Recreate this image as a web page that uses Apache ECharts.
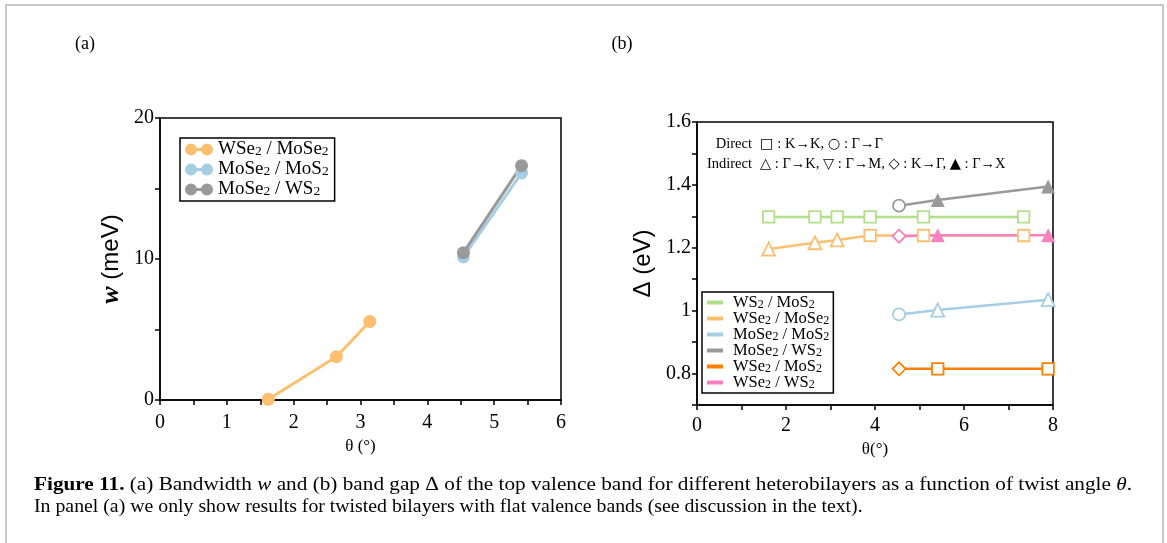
<!DOCTYPE html>
<html>
<head>
<meta charset="utf-8">
<script src="https://cdn.jsdelivr.net/npm/echarts@6/dist/echarts.min.js"></script>
<style>
html,body{margin:0;padding:0;background:#fff;}
#chart{width:1167px;height:543px;}
</style>
</head>
<body>
<div id="chart"></div>
<script>
// ---------- Panel (a): bandwidth w (meV) vs theta ----------
const namesA = ['WSe2 / MoSe2', 'MoSe2 / MoS2', 'MoSe2 / WS2'];
const thetaA_WSe2MoSe2 = [1.62, 2.64, 3.14];
const wA_WSe2MoSe2 = [0.05, 3.07, 5.57];
const thetaA_MoSe2MoS2 = [4.54, 5.41];
const wA_MoSe2MoS2 = [10.15, 16.1];
const thetaA_MoSe2WS2 = [4.54, 5.41];
const wA_MoSe2WS2 = [10.45, 16.62];

// ---------- Panel (b): band gap Delta (eV) vs theta ----------
const namesB = ['WS2 / MoS2', 'WSe2 / MoSe2', 'MoSe2 / MoS2', 'MoSe2 / WS2', 'WSe2 / MoS2', 'WSe2 / WS2'];
const thetaB_WS2MoS2 = [1.61, 2.65, 3.15, 3.89, 5.09, 7.34];
const gapB_WS2MoS2 = [1.298, 1.298, 1.298, 1.298, 1.298, 1.298];
const typeB_WS2MoS2 = ['KK', 'KK', 'KK', 'KK', 'KK', 'KK'];
const thetaB_WSe2MoSe2 = [1.61, 2.65, 3.15, 3.89, 5.09, 7.34];
const gapB_WSe2MoSe2 = [1.196, 1.216, 1.225, 1.239, 1.239, 1.239];
const typeB_WSe2MoSe2 = ['GK', 'GK', 'GK', 'KK', 'KK', 'KK'];
const thetaB_MoSe2MoS2 = [4.54, 5.41, 7.89];
const gapB_MoSe2MoS2 = [0.988, 1.002, 1.035];
const typeB_MoSe2MoS2 = ['GG', 'GK', 'GK'];
const thetaB_MoSe2WS2 = [4.54, 5.41, 7.89];
const gapB_MoSe2WS2 = [1.334, 1.352, 1.395];
const typeB_MoSe2WS2 = ['GG', 'GX', 'GX'];
const thetaB_WSe2MoS2 = [4.54, 5.41, 7.89];
const gapB_WSe2MoS2 = [0.815, 0.815, 0.815];
const typeB_WSe2MoS2 = ['KG', 'KK', 'KK'];
const thetaB_WSe2WS2 = [4.54, 5.41, 7.89];
const gapB_WSe2WS2 = [1.237, 1.24, 1.24];
const typeB_WSe2WS2 = ['KG', 'GX', 'GX'];

// tick labels
const xTicksA = [0, 1, 2, 3, 4, 5, 6];
const yTicksA = [0, 10, 20];
const xTicksB = [0, 2, 4, 6, 8];
const yTicksB = ['0.8', '1', '1.2', '1.4', '1.6'];

const colors = {
  'WS2 / MoS2': '#b2df8a',
  'WSe2 / MoSe2': '#fdbf6f',
  'MoSe2 / MoS2': '#a6cee3',
  'MoSe2 / WS2': '#999999',
  'WSe2 / MoS2': '#ff7f00',
  'WSe2 / WS2': '#f781bf'
};

const serif = '"Liberation Serif", "DejaVu Serif", serif';
const sans = '"Liberation Sans", Arial, sans-serif';

function pairs(xs, ys) { return xs.map((x, i) => [x, ys[i]]); }

function symbolFor(type, color) {
  // open symbols: white fill + coloured border; filled triangle for Gamma->X
  const map = { KK: ['rect', 11.5], GG: ['circle', 12], GK: ['triangle', 13], GM: ['path://M0,0L2,0L1,1.7Z', 13], KG: ['diamond', 13], GX: ['triangle', 14] };
  const m = map[type];
  const filled = type === 'GX';
  return {
    symbol: m[0], symbolSize: m[1],
    itemStyle: { color: filled ? color : '#ffffff', borderColor: color, borderWidth: filled ? 0 : 1.8 }
  };
}

function seriesB(name, xs, ys, types) {
  const c = colors[name];
  return {
    name, type: 'line', xAxisIndex: 1, yAxisIndex: 1,
    color: c,
    lineStyle: { color: c, width: 2.5 },
    itemStyle: { color: c },
    data: xs.map((x, i) => Object.assign({ value: [x, ys[i]] }, symbolFor(types[i], c))),
    z: 3
  };
}

function seriesA(name, xs, ys) {
  const c = colors[name];
  return {
    name, type: 'line', xAxisIndex: 0, yAxisIndex: 0,
    color: c,
    symbol: 'circle', symbolSize: 13,
    lineStyle: { color: c, width: 3 },
    itemStyle: { color: c },
    data: pairs(xs, ys)
  };
}

function subFmt(name) { return name.replace(/2/g, '{s|2}'); }

const chart = echarts.init(document.getElementById('chart'), null, { renderer: 'canvas' });

const axisCommon = {
  axisLine: { lineStyle: { color: '#000', width: 1.5 } },
  axisTick: { inside: false, length: 5, lineStyle: { color: '#000', width: 1.5 } },
  splitLine: { show: false }
};

const twoIcon = 'path://M0,6A6,6,0,1,1,12,6A6,6,0,1,1,0,6ZM16,6A6,6,0,1,1,28,6A6,6,0,1,1,16,6ZM11,4.5L17,4.5L17,7.5L11,7.5Z';

const option = {
  backgroundColor: '#ffffff',
  animation: false,
  grid: [
    { left: 160, top: 118, width: 401, height: 282, show: true, borderColor: '#000', borderWidth: 1.5, backgroundColor: 'transparent' },
    { left: 697, top: 122, width: 356, height: 283, show: true, borderColor: '#000', borderWidth: 1.5, backgroundColor: 'transparent' }
  ],
  xAxis: [
    Object.assign({}, axisCommon, {
      gridIndex: 0, type: 'value', min: 0, max: 6, interval: 0.5,
      name: 'θ (°)', nameLocation: 'middle', nameGap: 30,
      nameTextStyle: { fontFamily: serif, fontSize: 17, color: '#000' },
      axisLabel: { interval: 0, margin: 13, fontFamily: serif, fontSize: 20, color: '#000',
        formatter: v => { const r = Math.round(v * 2) / 2; return xTicksA.indexOf(r) >= 0 ? String(r) : ''; } }
    }),
    Object.assign({}, axisCommon, {
      gridIndex: 1, type: 'value', min: 0, max: 8, interval: 1,
      name: 'θ(°)', nameLocation: 'middle', nameGap: 28,
      nameTextStyle: { fontFamily: serif, fontSize: 17, color: '#000' },
      axisLabel: { interval: 0, margin: 11, fontFamily: serif, fontSize: 20, color: '#000',
        formatter: v => { const r = Math.round(v); return xTicksB.indexOf(r) >= 0 ? String(r) : ''; } }
    })
  ],
  yAxis: [
    Object.assign({}, axisCommon, {
      gridIndex: 0, type: 'value', min: 0, max: 20, interval: 5,
      name: '{w|w} (meV)', nameLocation: 'middle', nameGap: 36, nameRotate: 90,
      nameTextStyle: { fontFamily: sans, fontSize: 24, color: '#000',
        rich: { w: { fontFamily: serif, fontStyle: 'italic', fontWeight: 'bold', fontSize: 26, color: '#000' } } },
      axisLabel: { interval: 0, margin: 6, fontFamily: serif, fontSize: 20, color: '#000',
        formatter: v => { const r = Math.round(v); return yTicksA.indexOf(r) >= 0 ? String(r) : ''; } }
    }),
    Object.assign({}, axisCommon, {
      gridIndex: 1, type: 'value', min: 0.7, max: 1.6, interval: 0.1,
      name: 'Δ (eV)', nameLocation: 'middle', nameGap: 42, nameRotate: 90,
      nameTextStyle: { fontFamily: sans, fontSize: 24, color: '#000' },
      axisLabel: { interval: 0, margin: 6, fontFamily: serif, fontSize: 20, color: '#000',
        formatter: v => { const s = String(Math.round(v * 10) / 10); return yTicksB.indexOf(s) >= 0 ? s : ''; } }
    })
  ],
  legend: [
    {
      data: namesA, orient: 'vertical', left: 180, top: 138,
      icon: twoIcon, itemWidth: 28, itemHeight: 12, itemGap: 1,
      padding: [2, 6, 2, 5],
      borderColor: '#000', borderWidth: 1.5, backgroundColor: '#fff',
      selectedMode: false,
      formatter: subFmt,
      textStyle: { fontFamily: serif, fontSize: 19, lineHeight: 17, color: '#000',
        rich: { s: { fontFamily: serif, fontSize: 13.5, lineHeight: 17, color: '#000', verticalAlign: 'bottom' } } }
    },
    {
      data: namesB, orient: 'vertical', left: 702, top: 292,
      icon: 'rect', itemWidth: 16, itemHeight: 4, itemGap: -1,
      padding: [2, 4, 2, 5],
      borderColor: '#000', borderWidth: 1.5, backgroundColor: '#fff',
      selectedMode: false,
      formatter: subFmt,
      textStyle: { fontFamily: serif, fontSize: 16.5, lineHeight: 16, color: '#000', padding: [0, 0, 0, 5],
        rich: { s: { fontFamily: serif, fontSize: 12, lineHeight: 16, color: '#000', verticalAlign: 'bottom' } } }
    }
  ],
  series: [
    seriesA('WSe2 / MoSe2', thetaA_WSe2MoSe2, wA_WSe2MoSe2),
    seriesA('MoSe2 / MoS2', thetaA_MoSe2MoS2, wA_MoSe2MoS2),
    seriesA('MoSe2 / WS2', thetaA_MoSe2WS2, wA_MoSe2WS2),
    seriesB('WS2 / MoS2', thetaB_WS2MoS2, gapB_WS2MoS2, typeB_WS2MoS2),
    seriesB('WSe2 / MoSe2', thetaB_WSe2MoSe2, gapB_WSe2MoSe2, typeB_WSe2MoSe2),
    seriesB('MoSe2 / MoS2', thetaB_MoSe2MoS2, gapB_MoSe2MoS2, typeB_MoSe2MoS2),
    seriesB('MoSe2 / WS2', thetaB_MoSe2WS2, gapB_MoSe2WS2, typeB_MoSe2WS2),
    seriesB('WSe2 / MoS2', thetaB_WSe2MoS2, gapB_WSe2MoS2, typeB_WSe2MoS2),
    seriesB('WSe2 / WS2', thetaB_WSe2WS2, gapB_WSe2WS2, typeB_WSe2WS2)
  ],
  graphic: [
    { type: 'rect', shape: { x: 6, y: 5, width: 1157, height: 560 }, style: { fill: 'none', stroke: '#c8c8c8', lineWidth: 2 }, silent: true },
    { type: 'text', x: 85, y: 44, style: { text: '(a)', font: '18px ' + serif, fill: '#000', align: 'center', verticalAlign: 'middle' } },
    { type: 'text', x: 622, y: 44, style: { text: '(b)', font: '18px ' + serif, fill: '#000', align: 'center', verticalAlign: 'middle' } },
    { type: 'text', x: 752, y: 144, style: { text: 'Direct', font: '14.5px ' + serif, fill: '#000', align: 'right', verticalAlign: 'middle' } },
    { type: 'text', x: 752, y: 164, style: { text: 'Indirect', font: '14.5px ' + serif, fill: '#000', align: 'right', verticalAlign: 'middle' } },
    { type: 'text', x: 760, y: 144, style: {
        text: '{y|□} : K→K, {y|○} : Γ→Γ', font: '14.5px ' + serif, fill: '#000', verticalAlign: 'middle',
        rich: { y: { fontFamily: '"DejaVu Sans", sans-serif', fontWeight: 'bold', fontSize: 14.5, fill: '#000' } } } },
    { type: 'text', x: 760, y: 164, style: {
        text: '{y|△} : Γ→K, {y|▽} : Γ→M, {y|◇} : K→Γ, {y|▲} : Γ→X', font: '14.5px ' + serif, fill: '#000', verticalAlign: 'middle',
        rich: { y: { fontFamily: '"DejaVu Sans", sans-serif', fontWeight: 'bold', fontSize: 14.5, fill: '#000' } } } },
    { type: 'text', x: 34, y: 485, scaleX: 1.18, originX: 0, originY: 0, style: {
        text: '{b|Figure 11.} (a) Bandwidth {i|w} and (b) band gap Δ of the top valence band for different heterobilayers as a function of twist angle {i|θ}.',
        font: '18px ' + serif, fill: '#000', verticalAlign: 'middle',
        rich: { b: { fontFamily: serif, fontWeight: 'bold', fontSize: 18, fill: '#000' }, i: { fontFamily: serif, fontStyle: 'italic', fontSize: 18, fill: '#000' } } } },
    { type: 'text', x: 34, y: 507, scaleX: 1.10, originX: 0, originY: 0, style: {
        text: 'In panel (a) we only show results for twisted bilayers with flat valence bands (see discussion in the text).',
        font: '18px ' + serif, fill: '#000', verticalAlign: 'middle' } }
  ]
};

chart.setOption(option);
</script>
</body>
</html>
